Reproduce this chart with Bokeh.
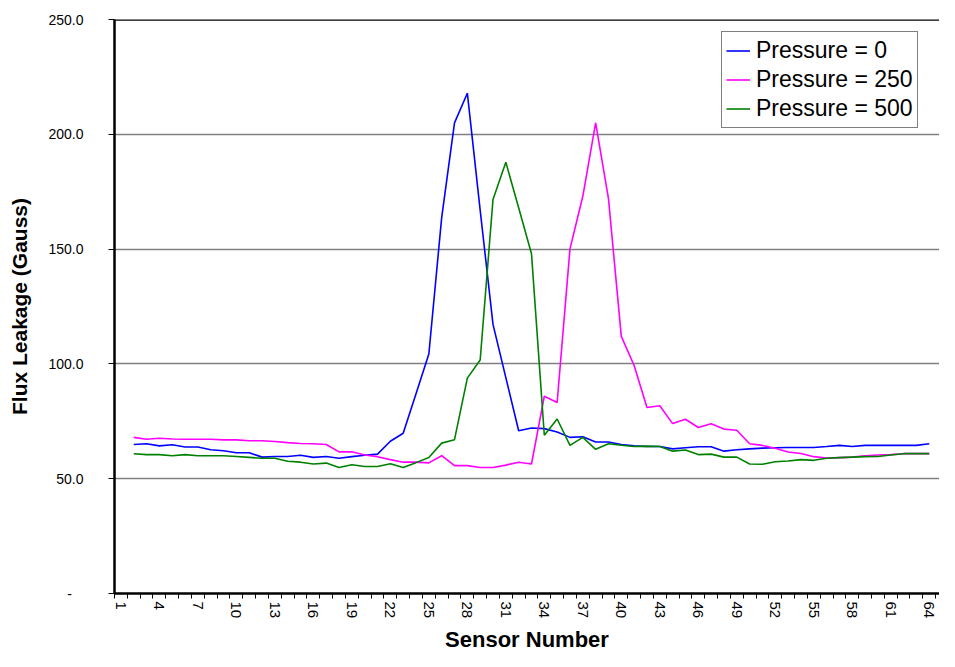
import numpy as np
from bokeh.plotting import figure
from bokeh.models import FixedTicker, Range1d, Span
from bokeh.embed import file_html
from bokeh.resources import INLINE

NAN = float("nan")
sensors = list(range(1, 65))

pressure_0 = [NAN, 64.9, 65.2, 64.3, 64.8, 63.8, 63.8, 62.6, 62.2, 61.3,
              61.3, 59.4, 59.7, 59.7, 60.2, 59.3, 59.7, 58.9, 59.6, 60.2,
              60.7, 66.3, 69.8, 87.0, 104.3, 163.7, 205.0, 217.9, 167.0, 117.2,
              94.0, 70.9, 72.1, 71.8, 70.3, 68.0, 68.3, 66.0, 66.0, 64.9,
              64.3, 64.0, 64.0, 63.0, 63.5, 63.9, 63.9, 62.0, 62.6, 63.0,
              63.3, 63.5, 63.6, 63.6, 63.6, 64.0, 64.5, 64.0, 64.5, 64.5,
              64.5, 64.5, 64.5, 65.2]

pressure_250 = [NAN, 68.0, 67.2, 67.6, 67.3, 67.2, 67.2, 67.2, 66.9, 66.9,
                66.5, 66.5, 66.2, 65.7, 65.3, 65.2, 64.9, 61.7, 61.7, 60.3,
                59.6, 58.3, 57.2, 57.2, 56.9, 60.0, 55.7, 55.7, 54.9, 54.9,
                55.9, 57.2, 56.4, 85.9, 83.2, 150.1, 173.0, 205.0, 172.0, 112.0,
                99.3, 81.0, 81.8, 74.0, 75.9, 72.3, 73.9, 71.6, 71.1, 65.2,
                64.5, 63.3, 61.6, 61.0, 59.6, 59.0, 59.2, 59.4, 60.0, 60.3,
                60.5, 60.9, 60.9, 60.9]

pressure_500 = [NAN, 60.9, 60.5, 60.5, 60.0, 60.5, 60.0, 60.0, 60.0, 59.7,
                59.3, 58.9, 58.9, 57.6, 57.2, 56.4, 56.8, 54.9, 56.1, 55.3,
                55.3, 56.5, 54.9, 57.0, 59.2, 65.5, 67.0, 93.8, 101.7, 171.6,
                187.8, 168.0, 148.0, 68.9, 76.0, 64.5, 68.0, 62.8, 65.2, 64.6,
                64.0, 64.2, 64.0, 62.0, 62.5, 60.5, 60.7, 59.4, 59.4, 56.4,
                56.3, 57.4, 57.7, 58.3, 58.0, 58.9, 59.2, 59.4, 59.6, 59.7,
                60.3, 60.9, 60.9, 60.9]

series_names = ["Pressure = 0", "Pressure = 250", "Pressure = 500"]
series_colors = ["#0000FF", "#FF00FF", "#008000"]

y_ticks = [0, 50, 100, 150, 200, 250]
y_tick_labels = ["-\u00a0\u00a0\u00a0", "50.0", "100.0", "150.0", "200.0", "250.0"]
x_label_ticks = list(range(1, 65, 3))

FONT = "Liberation Sans"
FRAME_H = 574

p = figure(frame_width=825, frame_height=FRAME_H,
           min_border_left=114, min_border_right=0, min_border_top=19, min_border_bottom=0,
           x_range=Range1d(0.5, 64.8), y_range=Range1d(0, 250),
           output_backend="svg", toolbar_location=None,
           background_fill_color="white", border_fill_color="white")
p.outline_line_color = None

for vals, name, col in zip([pressure_0, pressure_250, pressure_500], series_names, series_colors):
    p.line(sensors, np.array(vals, dtype=float), line_color=col, line_width=1.6,
           legend_label=name)

# grid
p.xgrid.visible = False
p.ygrid.ticker = FixedTicker(ticks=[50, 100, 150, 200])
p.ygrid.grid_line_color = "#808080"
p.ygrid.grid_line_width = 1.3

p.add_layout(Span(location=250, dimension="width", line_color="black", line_width=2.5))

# y axis
ya = p.yaxis[0]
ya.ticker = FixedTicker(ticks=y_ticks)
ya.major_label_overrides = {t: l for t, l in zip(y_ticks, y_tick_labels)}
ya.axis_line_color = "black"
ya.axis_line_width = 2.5
ya.major_tick_out = 6
ya.major_tick_in = 0
ya.major_tick_line_color = "black"
ya.minor_tick_line_color = None
ya.major_label_standoff = 25
ya.major_label_text_font = FONT
ya.major_label_text_font_size = "14px"
ya.major_label_text_color = "black"
ya.axis_label = "Flux Leakage (Gauss)"
ya.axis_label_text_font = FONT
ya.axis_label_text_font_style = "bold"
ya.axis_label_text_font_size = "21px"
ya.axis_label_text_color = "black"
ya.axis_label_standoff = 14

# x axis
xa = p.xaxis[0]
xa.ticker = FixedTicker(ticks=x_label_ticks, minor_ticks=[s - 0.5 for s in sensors] + [64.5])
xa.axis_line_color = "black"
xa.axis_line_width = 2.5
xa.major_tick_line_color = None
xa.major_tick_out = 5
xa.major_tick_in = 0
xa.minor_tick_line_color = "black"
xa.minor_tick_out = 5
xa.minor_tick_in = 0
xa.major_label_orientation = "vertical"
xa.major_label_standoff = 3
xa.major_label_text_font = FONT
xa.major_label_text_font_size = "15px"
xa.major_label_text_color = "black"
xa.axis_label = "Sensor Number"
xa.axis_label_text_font = FONT
xa.axis_label_text_font_style = "bold"
xa.axis_label_text_font_size = "22px"
xa.axis_label_text_color = "black"
xa.axis_label_standoff = 6

# legend
lg = p.legend[0]
lg.location = (607, FRAME_H - 14 - 95)
lg.label_text_font = FONT
lg.label_text_font_size = "23px"
lg.label_text_color = "black"
lg.glyph_width = 24
lg.glyph_height = 29
lg.label_height = 29
lg.label_standoff = 6
lg.spacing = 0
lg.padding = 4
lg.margin = 0
lg.border_line_color = "black"
lg.border_line_width = 1
lg.background_fill_color = "white"
lg.background_fill_alpha = 1.0

open("out.html", "w").write(file_html(p, INLINE))
